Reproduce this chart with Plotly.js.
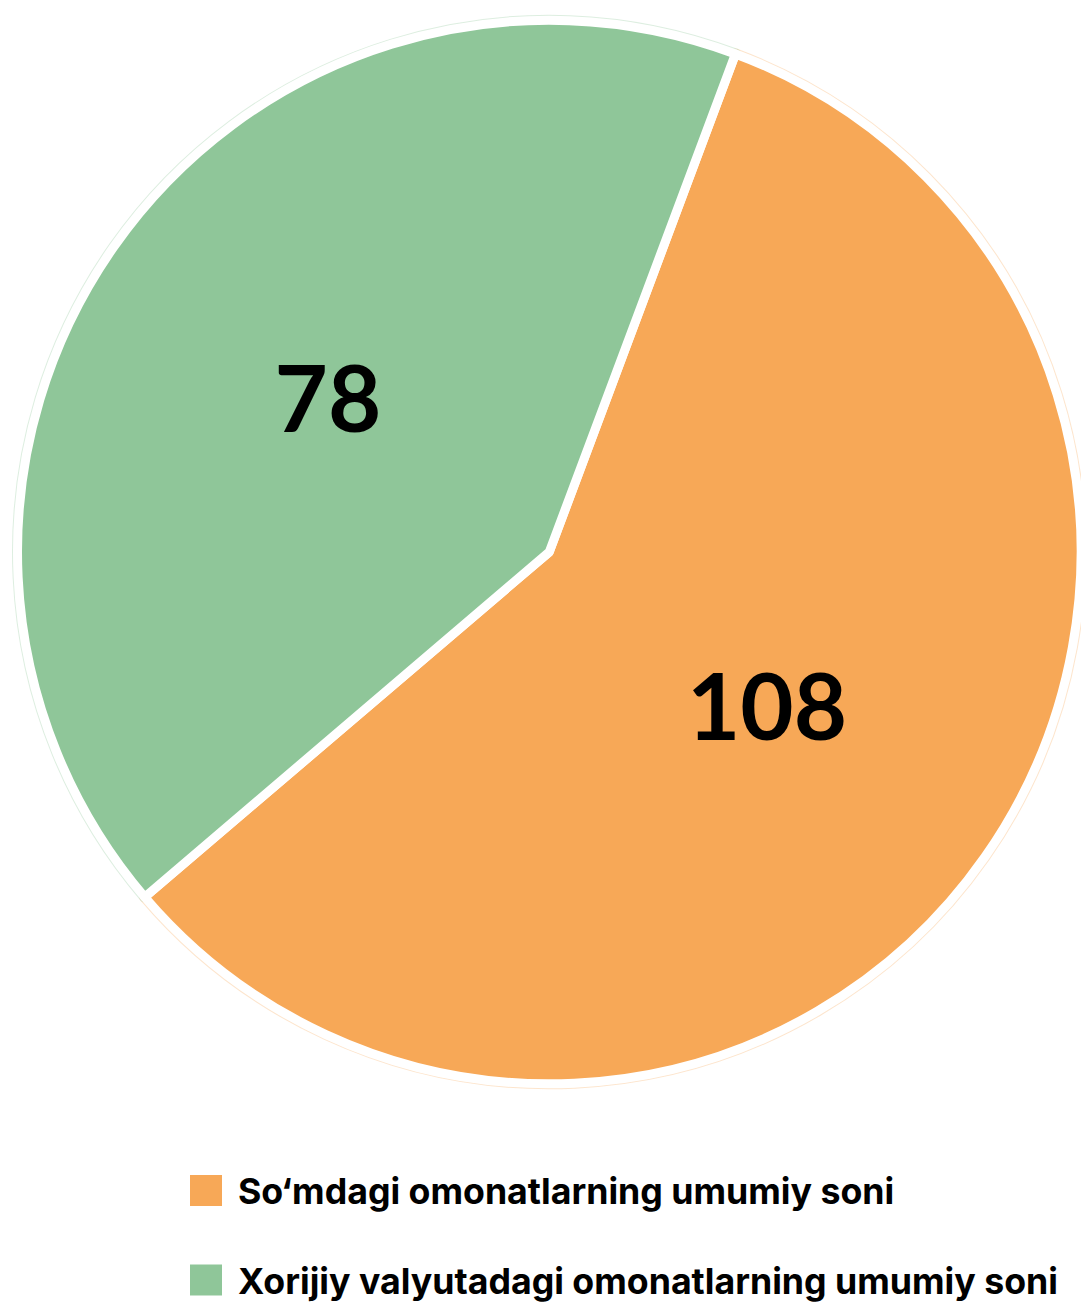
<!DOCTYPE html>
<html>
<head>
<meta charset="utf-8">
<script src="https://cdn.plot.ly/plotly-3.0.1.min.js"></script>
<style>
html,body{margin:0;padding:0;background:#fff;}
#chart{width:1081px;height:1307px;}
</style>
</head>
<body>
<div id="chart"></div>
<script>
const categories = ['So\u2018mdagi omonatlarning umumiy soni', 'Xorijiy valyutadagi omonatlarning umumiy soni'];
const depositCounts = [108, 78];
const sliceColors = ['#F7A857', '#8FC699'];
const rimColors = ['rgba(247,168,88,0.3)', 'rgba(143,198,153,0.3)'];

const pieDomain = { x: [0.0162, 1], y: [0.1706, 0.9847] };

const rimTrace = {
  type: 'pie',
  labels: categories,
  values: depositCounts,
  sort: false,
  direction: 'clockwise',
  rotation: 20.5,
  marker: { colors: sliceColors, line: { color: rimColors, width: 11 } },
  textinfo: 'none',
  showlegend: false,
  hoverinfo: 'skip',
  domain: pieDomain
};

const trace = {
  type: 'pie',
  labels: categories,
  values: depositCounts,
  sort: false,
  direction: 'clockwise',
  rotation: 20.5,
  marker: { colors: sliceColors, line: { color: '#ffffff', width: 9 } },
  textinfo: 'value',
  textposition: 'inside',
  insidetextorientation: 'horizontal',
  textfont: { family: 'Lato', size: 92, weight: 'bold', color: '#000000' },
  hoverinfo: 'label+value',
  domain: pieDomain
};

const layout = {
  width: 1081,
  height: 1307,
  margin: { l: 0, r: 0, t: 0, b: 0 },
  paper_bgcolor: '#ffffff',
  showlegend: true,
  legend: {
    x: 0.17, y: 0.11, xanchor: 'left', yanchor: 'top',
    font: { family: 'Inter', size: 35.7, weight: 'bold', color: '#000000' },
    bgcolor: 'rgba(0,0,0,0)'
  }
};

Plotly.newPlot('chart', [rimTrace, trace], layout, { staticPlot: true }).then(function (gd) {
  const sc = gd.querySelector('.legend .scrollbox');
  if (sc) sc.removeAttribute('clip-path');
  const targetCY = [1190.5, 1280];
  gd.querySelectorAll('.legend .traces').forEach(function (t, i) {
    const path = t.querySelector('.legendpoints path');
    path.setAttribute('d', 'M16,15.5H-16V-15.5H16Z');
    path.style.strokeWidth = '0px';
    const txt = t.querySelector('.legendtext');
    txt.setAttribute('x', 52);
    const r = path.getBoundingClientRect();
    const m = /translate\(\s*([-\d.]+)[ ,]+([-\d.]+)\s*\)/.exec(t.getAttribute('transform') || 'translate(0,0)');
    const x = m ? parseFloat(m[1]) : 0, y = m ? parseFloat(m[2]) : 0;
    const dx = 190 - r.left, dy = targetCY[i] - (r.top + r.height / 2);
    t.setAttribute('transform', 'translate(' + (x + dx) + ',' + (y + dy) + ')');
  });
});
</script>
</body>
</html>
